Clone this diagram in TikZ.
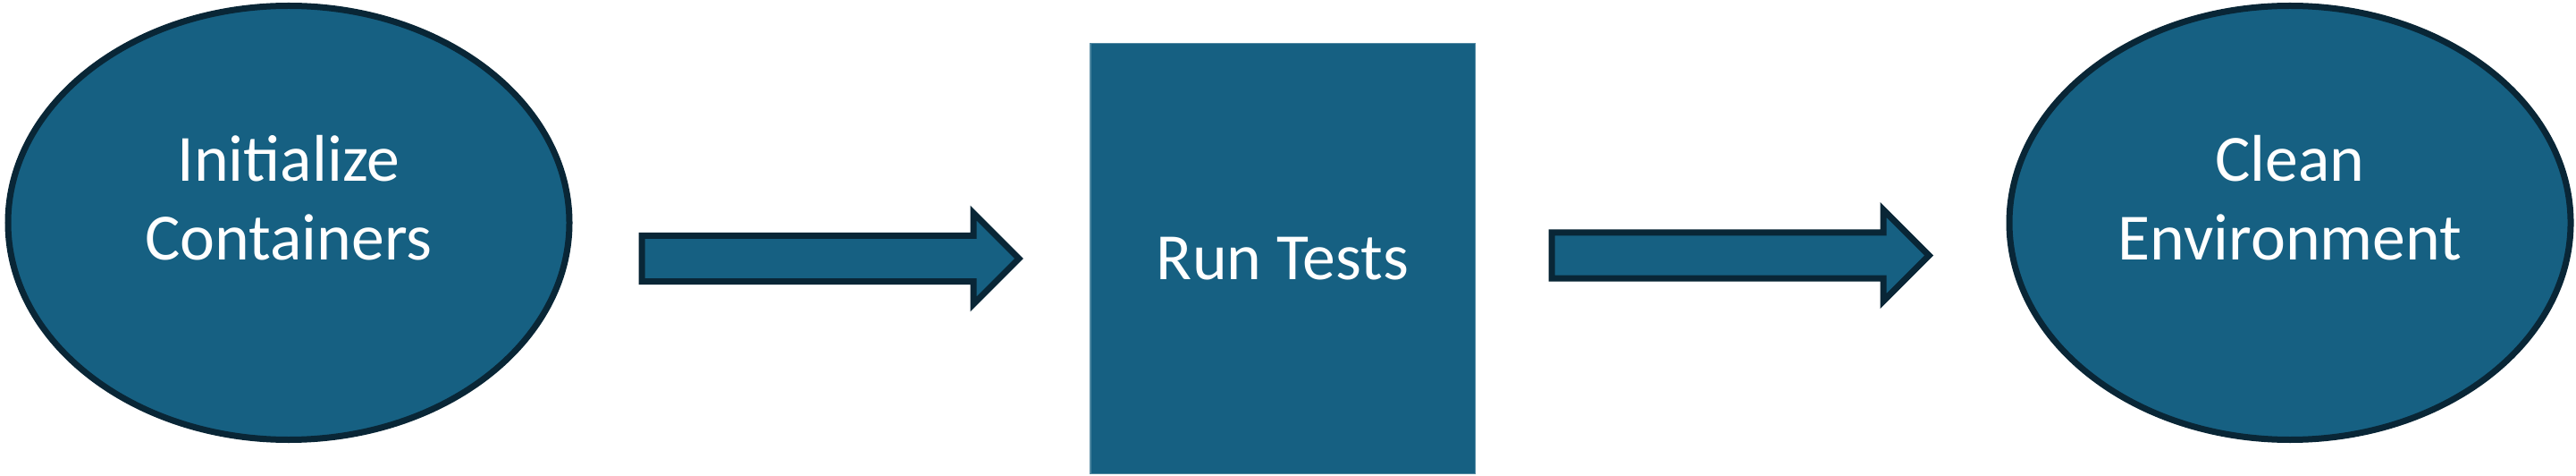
\documentclass[tikz,border=0pt]{standalone}
\usepackage{fontspec}
\setmainfont{Carlito}
\usetikzlibrary{shapes.geometric,shapes.arrows}

\begin{document}
\begin{tikzpicture}[
    every node/.style={font=\fontsize{21pt}{25pt}\selectfont, text=white},
    stage/.style={ellipse, draw=stageborder, line width=0.07cm, fill=stagefill,
        minimum width=6.28cm, minimum height=4.85cm, align=center, text depth=16pt},
    task/.style={rectangle, fill=stagefill, draw=stagefill!75!white, line width=0.3pt,
        minimum width=4.3cm, minimum height=4.81cm},
    flow/.style={single arrow, draw=stageborder, line width=0.07cm, fill=stagefill,
        minimum width=0pt, minimum height=4.22cm, inner xsep=0pt, inner ysep=0.22cm,
        text height=0pt, text depth=0pt, single arrow head extend=0.255cm, anchor=tail}
]
\definecolor{stagefill}{RGB}{22,96,130}    % Teal blue
\definecolor{stageborder}{RGB}{9,38,54}    % Dark navy

\useasboundingbox (0,0) rectangle (28.82,5.31);

% Three stages
\node[stage] (init) at (3.23,2.82) {Initialize\\Containers};
\node[task] (run) at (14.35,2.42) {Run Tests};
\node[stage] (clean) at (25.62,2.82) {Clean\\Environment};

% Block arrows between the stages
\node[flow] (initrun) at ([xshift=0.74cm]init.east |- run.west) {};
\node[flow] (runclean) at ([xshift=0.82cm, yshift=0.035cm]run.east) {};

\end{tikzpicture}
\end{document}
